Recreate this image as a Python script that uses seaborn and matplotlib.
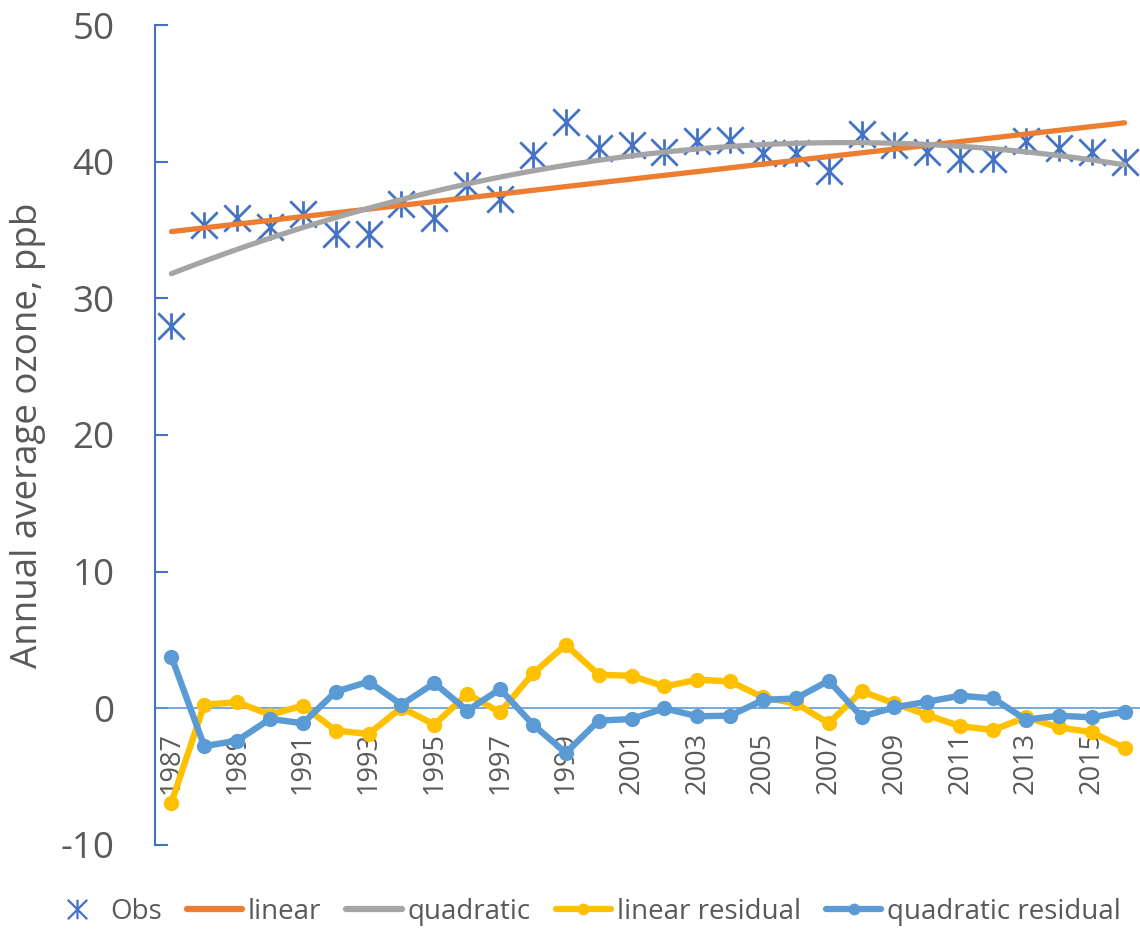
import numpy as np
import pandas as pd
import matplotlib
matplotlib.use("Agg")
import matplotlib.pyplot as plt
from matplotlib.path import Path
from matplotlib.lines import Line2D
import seaborn as sns

# values
years = list(range(1987, 2017))
obs = [28.0, 35.4, 35.9, 35.2, 36.2, 34.7, 34.7, 36.9, 35.9, 38.3,
       37.3, 40.5, 42.9, 41.0, 41.2, 40.7, 41.5, 41.6, 40.6, 40.6,
       39.3, 42.0, 41.2, 40.7, 40.2, 40.2, 41.5, 41.0, 40.7, 40.0]
linear_residual = [-6.9, 0.27, 0.44, -0.46, 0.19, -1.63, -1.87, 0.05, -1.19, 1.05,
                   -0.29, 2.55, 4.65, 2.46, 2.38, 1.6, 2.09, 1.97, 0.8, 0.36,
                   -1.09, 1.24, 0.36, -0.49, -1.31, -1.58, -0.66, -1.39, -1.75, -2.9]
quadratic_residual = [3.77, -2.77, -2.36, -0.78, -1.09, 1.22, 1.95, 0.27, 1.85, -0.17,
                      1.41, -1.19, -3.26, -0.9, -0.78, 0.0, -0.58, -0.54, 0.61, 0.73,
                      2.02, -0.61, 0.07, 0.49, 0.92, 0.73, -0.83, -0.54, -0.66, -0.24]
y_ticks = [-10, 0, 10, 20, 30, 40, 50]
x_label_years = list(range(1987, 2017, 2))

df = pd.DataFrame({"year": years, "obs": obs,
                   "linear_residual": linear_residual,
                   "quadratic_residual": quadratic_residual})

BLUE = "#4472C4"
ORANGE = "#ED7D31"
GRAY = "#A5A5A5"
GOLD = "#FFC000"
LBLUE = "#5B9BD5"
TXT = "#595959"

sns.set_theme(style="white")
plt.rcParams['font.family'] = ['Open Sans', 'DejaVu Sans']
plt.rcParams['axes.unicode_minus'] = False

fig = plt.figure(figsize=(11.4, 9.33), dpi=100)
ax = fig.add_axes([155 / 1140, 88 / 933, 986 / 1140, 820 / 933])

# asterisk marker like Excel's "star"
star = Path([(0, -1), (0, 1), (-1, -1), (1, 1), (-1, 1), (1, -1)],
            [Path.MOVETO, Path.LINETO] * 3)

sns.lineplot(data=df, x="year", y="obs", ax=ax, linestyle="", marker=star,
             markersize=19, markerfacecolor="none", markeredgecolor=BLUE,
             markeredgewidth=2, zorder=2)
# trend lines fitted by seaborn
sns.regplot(data=df, x="year", y="obs", order=1, ci=None, scatter=False,
            truncate=True, ax=ax,
            line_kws=dict(color=ORANGE, lw=3.8, solid_capstyle="round", zorder=3))
sns.regplot(data=df, x="year", y="obs", order=2, ci=None, scatter=False,
            truncate=True, ax=ax,
            line_kws=dict(color=GRAY, lw=3.8, solid_capstyle="round", zorder=4))
sns.lineplot(data=df, x="year", y="linear_residual", ax=ax, color=GOLD, lw=4.6,
             marker="o", markersize=11, markeredgewidth=0, markeredgecolor=GOLD,
             zorder=5)
sns.lineplot(data=df, x="year", y="quadratic_residual", ax=ax, color=LBLUE, lw=4.6,
             marker="o", markersize=11, markeredgewidth=0, markeredgecolor=LBLUE,
             zorder=6)

ax.set_xlim(1986.5, 2016.5)
ax.set_ylim(-10, 50)

for s in ["top", "right"]:
    ax.spines[s].set_visible(False)
ax.spines["bottom"].set_position(("data", 0))
ax.spines["bottom"].set_color(LBLUE)
ax.spines["bottom"].set_linewidth(1.2)
ax.spines["bottom"].set_zorder(1)
ax.spines["left"].set_color(BLUE)
ax.spines["left"].set_linewidth(1.5)

ax.set_xticks(np.arange(1986.5, 2017, 1), minor=True)
ax.set_xticks(x_label_years, labels=[str(y) for y in x_label_years],
              fontsize=19.5, rotation=90, color=TXT)
ax.tick_params(axis="x", which="major", length=0, pad=17)
ax.tick_params(axis="x", which="minor", direction="in", length=7, width=1,
               color=LBLUE)
ax.set_yticks(y_ticks, labels=[str(v) for v in y_ticks], fontsize=26.5, color=TXT)
ax.tick_params(axis="y", direction="in", length=9.5, width=1.5, color=BLUE,
               pad=29, left=True)

ax.set_xlabel("")
ax.set_ylabel("Annual average ozone, ppb", fontsize=26.5, color=TXT)
ax.yaxis.set_label_coords(-0.111, 0.5)

handles = [
    Line2D([], [], linestyle="", marker=star, markersize=14, markerfacecolor="none",
           markeredgecolor=BLUE, markeredgewidth=1.6),
    Line2D([], [], color=ORANGE, lw=4.5, solid_capstyle="round"),
    Line2D([], [], color=GRAY, lw=4.5, solid_capstyle="round"),
    Line2D([], [], color=GOLD, lw=4.5, marker="o", markersize=8.5, markeredgewidth=0),
    Line2D([], [], color=LBLUE, lw=4.5, marker="o", markersize=8.5, markeredgewidth=0),
]
labels = ["Obs", "linear", "quadratic", "linear residual", "quadratic residual"]
fig.legend(handles, labels, loc="center", bbox_to_anchor=(0.513, 0.0225),
           ncol=5, frameon=False, fontsize=20, handlelength=2.0,
           handletextpad=0.2, columnspacing=0.9, labelcolor=TXT)

fig.savefig("out.png", dpi=100)
